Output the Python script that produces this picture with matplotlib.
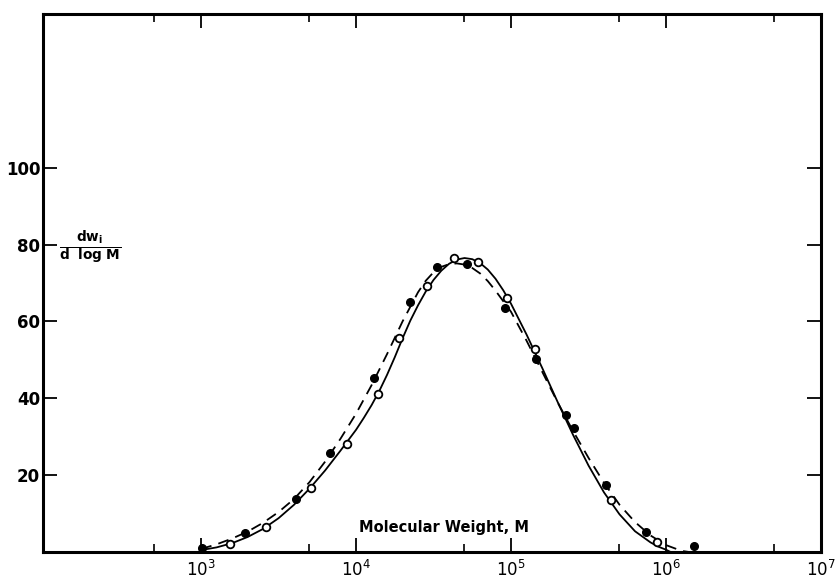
import numpy as np
import matplotlib
matplotlib.use('Agg')
import matplotlib.pyplot as plt
from matplotlib.ticker import FixedLocator, NullFormatter

# %% Data (log10 M, dw/dlogM)
filled_logm = [3.006, 3.284, 3.614, 3.834, 4.118, 4.351, 4.525, 4.719, 4.964,
               5.158, 5.352, 5.404, 5.611, 5.869, 6.179]
filled_w = [1.0, 4.9, 13.8, 25.8, 45.3, 65.1, 74.2, 75.0, 63.5,
            50.2, 35.7, 32.3, 17.4, 5.2, 1.6]

open_logm = [3.187, 3.420, 3.711, 3.943, 4.144, 4.279, 4.460, 4.635, 4.790,
             4.977, 5.152, 5.643, 5.940]
open_w = [2.1, 6.5, 16.7, 28.1, 41.1, 55.7, 69.2, 76.5, 75.5,
          66.1, 52.8, 13.5, 2.6]

# solid curve (fit through open points)
solid_logm = [3.0, 3.1, 3.2, 3.3, 3.4, 3.5, 3.6, 3.7, 3.8, 3.9, 4.0, 4.05, 4.1, 4.15, 4.2,
              4.25, 4.3, 4.35, 4.4, 4.45, 4.5, 4.55, 4.6, 4.65, 4.7, 4.75, 4.8, 4.85,
              4.9, 4.95, 5.0, 5.1, 5.2, 5.3, 5.4, 5.5, 5.6, 5.7, 5.8, 5.9, 5.95, 6.0, 6.03]
solid_w = [0.5, 1.2, 2.3, 3.9, 6.0, 8.8, 12.3, 16.5, 21.2, 26.4, 31.8, 34.9, 38.2, 41.9, 46.1,
           50.7, 55.6, 60.2, 64.2, 67.8, 70.8, 73.2, 75.0, 76.1, 76.5, 76.2, 75.2, 73.5,
           71.1, 68.1, 64.6, 56.6, 48.0, 39.1, 30.5, 22.5, 15.5, 9.8, 5.4, 2.5, 1.4, 0.6, 0.0]

# dashed curve (fit through filled points)
dashed_logm = [3.0, 3.1, 3.2, 3.3, 3.4, 3.5, 3.6, 3.7, 3.8, 3.9, 4.0, 4.1, 4.2,
               4.3, 4.4, 4.45, 4.5, 4.55, 4.6, 4.65, 4.7, 4.75, 4.8, 4.85, 4.9, 5.0,
               5.1, 5.2, 5.3, 5.4, 5.5, 5.6, 5.7, 5.8, 5.9, 6.0, 6.1, 6.15]
dashed_w = [0.8, 2.0, 3.5, 5.3, 7.6, 10.4, 13.8, 18.2, 23.5, 29.5, 36.0, 43.4, 51.5,
            60.0, 67.6, 70.6, 72.8, 74.2, 74.9, 75.1, 74.8, 73.9, 72.5, 70.5, 68.0, 62.5,
            55.0, 47.0, 39.0, 31.5, 24.5, 18.0, 12.3, 7.8, 4.3, 1.8, 0.3, 0.0]

x_major = [1e3, 1e4, 1e5, 1e6, 1e7]
x_major_labels = ['$10^{3}$', '$10^{4}$', '$10^{5}$', '$10^{6}$', '$10^{7}$']
x_minor = [5e2, 5e3, 5e4, 5e5, 5e6]
y_ticks = [20, 40, 60, 80, 100]

# %% Plot
plt.rcParams['mathtext.fontset'] = 'dejavusans'
fig = plt.figure(figsize=(8.38, 5.81), dpi=100)
ax = fig.add_axes([0.0513, 0.0499, 0.9284, 0.926])

to_m = lambda v: 10 ** np.asarray(v)

ax.plot(to_m(solid_logm), solid_w, color='black', lw=1.3, ls='-')
ax.plot(to_m(dashed_logm), dashed_w, color='black', lw=1.3, ls=(0, (6, 4)))
ax.plot(to_m(filled_logm), filled_w, 'o', color='black', ms=5.5, zorder=3)
ax.plot(to_m(open_logm), open_w, 'o', mfc='white', mec='black', mew=1.3, ms=5.5, zorder=3)

ax.set_xscale('log')
ax.set_xlim(10 ** 1.98, 1e7)
ax.set_ylim(0, 140)

ax.xaxis.set_major_locator(FixedLocator(x_major))
ax.set_xticklabels(x_major_labels)
ax.xaxis.set_minor_locator(FixedLocator(x_minor))
ax.xaxis.set_minor_formatter(NullFormatter())
ax.set_yticks(y_ticks)

ax.tick_params(axis='both', which='major', direction='in', top=True, right=True,
               length=10, width=1.3, labelsize=12)
ax.tick_params(axis='x', which='minor', direction='in', top=True, length=6, width=1.2)
ax.tick_params(axis='x', which='major', pad=6)
ax.tick_params(axis='y', which='major', pad=2)
for lab in ax.get_yticklabels():
    lab.set_fontweight('bold')

for sp in ax.spines.values():
    sp.set_linewidth(2.2)

ax.text(0.515, 0.046, 'Molecular Weight, M', transform=ax.transAxes,
        ha='center', va='center', fontsize=10.5, fontweight='bold')
ax.text(0.061, 0.567, r'$\frac{\mathbf{dw_{i}}}{\mathbf{d\ \ log\ M}}$', transform=ax.transAxes,
        ha='center', va='center', fontsize=14)

fig.savefig('out.png', dpi=100)
